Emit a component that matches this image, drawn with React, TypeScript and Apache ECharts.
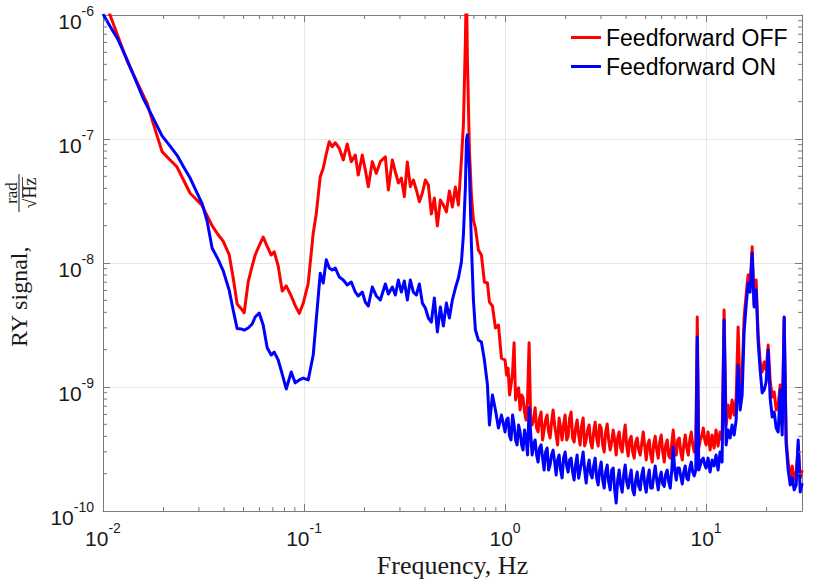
import React, { useEffect, useRef } from "react";
import * as echarts from "echarts";

// Frequency axis (Hz)
const freq: number[] = [
  0.01, 0.01084, 0.01188, 0.01317, 0.01443, 0.01582, 0.01656, 0.01774, 0.01967, 0.02157,
  0.02336, 0.02532, 0.02713, 0.02905, 0.03112, 0.03295, 0.03489, 0.03738, 0.03959, 0.04242,
  0.04441, 0.04649, 0.04868, 0.05038, 0.05275, 0.05521, 0.05715, 0.05983, 0.06263, 0.06557,
  0.06866, 0.07107, 0.0744, 0.07789, 0.08155, 0.08636, 0.09042, 0.09465, 0.09908,
  0.1049, 0.1111, 0.115, 0.1204, 0.1246, 0.129, 0.1335, 0.1381, 0.143, 0.1497,
  0.1568, 0.1641, 0.1718, 0.1799, 0.1862, 0.1949, 0.2018, 0.2088, 0.2186, 0.2289,
  0.2396, 0.2538, 0.2627, 0.275, 0.2846, 0.2946, 0.3049, 0.3155, 0.3265, 0.338,
  0.3498, 0.3621, 0.3747, 0.3878, 0.4014, 0.4154, 0.43, 0.445, 0.4606, 0.4767,
  0.4934, 0.5107, 0.5285, 0.547, 0.5662, 0.586, 0.6066, 0.6206, 0.635, 0.6424,
  0.6497, 0.6648, 0.6803, 0.696, 0.7122, 0.737, 0.7628, 0.7894, 0.8173, 0.8362,
  0.8655, 0.8958, 0.927, 0.9596,
  1.0, 1.017, 1.035, 1.053, 1.071, 1.09, 1.109, 1.128, 1.148, 1.168,
  1.188, 1.209, 1.229, 1.25, 1.272, 1.294, 1.317, 1.34, 1.363, 1.387,
  1.411, 1.435, 1.46, 1.485, 1.511, 1.537, 1.564, 1.591, 1.619, 1.647,
  1.675, 1.704, 1.734, 1.764, 1.795, 1.826, 1.857, 1.889, 1.922, 1.955,
  1.99, 2.025, 2.059, 2.095, 2.131, 2.168, 2.206, 2.244, 2.283, 2.323,
  2.363, 2.404, 2.446, 2.488, 2.532, 2.576, 2.62, 2.665, 2.712, 2.759,
  2.807, 2.856, 2.905, 2.955, 3.007, 3.059, 3.112, 3.166, 3.221, 3.277,
  3.334, 3.392, 3.45, 3.51, 3.571, 3.633, 3.696, 3.76, 3.825, 3.891,
  3.959, 4.028, 4.098, 4.169, 4.241, 4.315, 4.39, 4.466, 4.543, 4.622,
  4.702, 4.784, 4.867, 4.951, 5.037, 5.124, 5.214, 5.304, 5.396, 5.49,
  5.585, 5.682, 5.78, 5.88, 5.983, 6.087, 6.192, 6.299, 6.409, 6.52,
  6.633, 6.748, 6.865, 6.984, 7.105, 7.228, 7.354, 7.482, 7.612, 7.744,
  7.878, 8.015, 8.154, 8.295, 8.439, 8.585, 8.735, 8.887, 9.04, 9.197,
  9.357, 9.519, 9.684, 9.852,
  10.0, 10.23, 10.47, 10.71, 10.96, 11.21, 11.47, 11.74, 12.01, 12.29,
  12.58, 12.87, 13.17, 13.47, 13.79, 14.11, 14.43, 14.77, 15.11, 15.46,
  15.82, 16.19, 16.56, 16.95, 17.34, 17.74, 18.16, 18.58, 19.01, 19.45,
  19.9, 20.36, 20.83, 21.32, 21.81, 22.32, 22.84, 23.37, 23.91, 24.46,
  25.03, 25.61, 26.21, 26.82, 27.44, 28.07, 28.72, 29.39, 30.07,
];

// RY signal, Feedforward OFF (rad/sqrt(Hz))
const feedforwardOff: number[] = [
  1.42e-6, 1.0e-6, 6.72e-7, 4.27e-7, 3.12e-7, 2.27e-7, 1.95e-7, 1.35e-7, 7.91e-8, 6.78e-8,
  5.94e-8, 4.56e-8, 3.65e-8, 3.27e-8, 2.91e-8, 2.41e-8, 2.0e-8, 1.69e-8, 1.5e-8, 1.17e-8,
  7.62e-9, 4.67e-9, 4.28e-9, 3.97e-9, 7.03e-9, 9.46e-9, 1.16e-8, 1.38e-8, 1.62e-8, 1.36e-8,
  1.16e-8, 1.23e-8, 9.46e-9, 5.94e-9, 6.53e-9, 5.42e-9, 4.53e-9, 3.92e-9, 4.73e-9,
  6.86e-9, 1.74e-8, 2.48e-8, 4.97e-8, 5.81e-8, 7.57e-8, 9.51e-8, 8.67e-8, 9.33e-8, 8.41e-8,
  6.78e-8, 9.12e-8, 6.57e-8, 7.43e-8, 5.13e-8, 7.43e-8, 5.62e-8, 4.12e-8, 6.57e-8, 5.28e-8,
  6.57e-8, 7.19e-8, 3.88e-8, 6.78e-8, 5.42e-8, 4.42e-8, 4.84e-8, 3.43e-8, 6.53e-8, 4.12e-8,
  4.67e-8, 3.88e-8, 3.12e-8, 3.67e-8, 4.67e-8, 4.25e-8, 2.48e-8, 3.34e-8, 1.99e-8, 3.22e-8,
  2.94e-8, 2.58e-8, 3.81e-8, 2.83e-8, 4.1e-8, 2.94e-8, 6.78e-8, 1.3e-7, 6.28e-7, 1.91e-6,
  4.34e-7, 8.15e-8, 3.53e-8, 2.22e-8, 1.91e-8, 1.27e-8, 1.16e-8, 7.03e-9, 6.9e-9, 4.84e-9,
  4.5e-9, 2.99e-9, 3.16e-9, 1.71e-9,
  1.65e-9, 1.25e-9, 1.42e-9, 8.62e-10, 1.04e-9, 1.32e-9, 2.27e-9, 7.85e-10, 9.12e-10, 9.84e-10,
  6.53e-10, 8.62e-10, 8.15e-10, 6.29e-10, 5.42e-10, 7.85e-10, 2.27e-9, 5.94e-10, 4.94e-10, 5.42e-10,
  6.8e-10, 4.67e-10, 4.34e-10, 5.62e-10, 6.28e-10, 3.74e-10, 4.5e-10, 5.42e-10, 5.94e-10, 4.34e-10,
  3.88e-10, 5.22e-10, 6.53e-10, 4.94e-10, 4.1e-10, 3.41e-10, 5.62e-10, 4.67e-10, 3.74e-10, 4.94e-10,
  5.94e-10, 3.74e-10, 4.0e-10, 5.62e-10, 6.28e-10, 3.88e-10, 3.6e-10, 4.67e-10, 5.42e-10, 4.1e-10,
  3.41e-10, 4.85e-10, 5.62e-10, 3.35e-10, 3.74e-10, 4.5e-10, 4.94e-10, 3.6e-10, 3.22e-10, 4.34e-10,
  5.2e-10, 3.88e-10, 3.34e-10, 4.94e-10, 4.67e-10, 3.41e-10, 2.99e-10, 4.34e-10, 5.03e-10, 3.74e-10,
  3.1e-10, 3.6e-10, 4.5e-10, 3.74e-10, 2.83e-10, 3.88e-10, 4.34e-10, 3.23e-10, 2.99e-10, 4.02e-10,
  4.94e-10, 3.35e-10, 2.78e-10, 3.74e-10, 4.0e-10, 2.99e-10, 2.67e-10, 3.6e-10, 3.88e-10, 3.1e-10,
  2.83e-10, 3.47e-10, 4.34e-10, 3.35e-10, 2.58e-10, 3.41e-10, 3.74e-10, 2.83e-10, 2.48e-10, 3.47e-10,
  4.0e-10, 3.1e-10, 2.67e-10, 3.6e-10, 4.1e-10, 2.99e-10, 2.48e-10, 3.41e-10, 3.74e-10, 2.78e-10,
  2.67e-10, 3.47e-10, 4.5e-10, 3.23e-10, 2.83e-10, 3.74e-10, 3.88e-10, 2.99e-10, 2.58e-10, 3.41e-10,
  4.1e-10, 3.23e-10, 2.83e-10, 3.74e-10, 4.34e-10, 3.41e-10, 2.99e-10, 3.41e-10, 3.67e-9, 3.23e-10,
  3.74e-10, 4.02e-10, 4.67e-10, 3.74e-10,
  3.41e-10, 4.34e-10, 3.1e-10, 4.1e-10, 3.22e-10, 4.5e-10, 3.34e-10, 4.34e-10, 3.74e-10, 4.18e-9,
  4.94e-10, 7.16e-10, 5.62e-10, 7.85e-10, 5.94e-10, 8.15e-10, 3.05e-9, 8.62e-10, 1.25e-9, 3.67e-9,
  5.52e-9, 8.0e-9, 6.65e-9, 1.35e-8, 4.58e-9, 7.29e-9, 2.62e-9, 1.59e-9, 1.32e-9, 1.59e-9,
  1.37e-9, 2.18e-9, 1.14e-9, 8.3e-10, 9.12e-10, 6.53e-10, 7.16e-10, 1.04e-9, 4.94e-10, 3.6e-9,
  3.74e-10, 2.48e-10, 1.85e-10, 2.31e-10, 1.78e-10, 2.06e-10, 3.41e-10, 1.85e-10, 2.14e-10,
];

// RY signal, Feedforward ON (rad/sqrt(Hz))
const feedforwardOn: number[] = [
  1.02e-6, 8.11e-7, 6.34e-7, 4.37e-7, 3.06e-7, 2.14e-7, 1.85e-7, 1.48e-7, 1.06e-7, 8.77e-8,
  7.38e-8, 5.87e-8, 4.84e-8, 3.82e-8, 3.01e-8, 2.18e-8, 1.32e-8, 1.07e-8, 8.69e-9, 6.04e-9,
  4.18e-9, 2.96e-9, 2.94e-9, 2.88e-9, 2.99e-9, 3.22e-9, 3.67e-9, 3.95e-9, 3.16e-9, 2.07e-9,
  1.81e-9, 1.91e-9, 1.65e-9, 1.27e-9, 9.64e-10, 1.32e-9, 1.08e-9, 1.14e-9, 1.18e-9,
  1.14e-9, 1.81e-9, 3.47e-9, 8.26e-9, 6.9e-9, 1.06e-8, 9.12e-9, 8.79e-9, 9.12e-9, 7.71e-9,
  7.29e-9, 6.65e-9, 7.03e-9, 5.83e-9, 5.42e-9, 5.83e-9, 4.84e-9, 4.5e-9, 6.4e-9, 5.42e-9,
  5.03e-9, 6.78e-9, 5.62e-9, 6.4e-9, 5.52e-9, 7.29e-9, 5.83e-9, 7.16e-9, 5.03e-9, 7.29e-9,
  5.83e-9, 5.52e-9, 6.78e-9, 4.75e-9, 4.34e-9, 3.6e-9, 3.34e-9, 5.22e-9, 2.78e-9, 4.42e-9,
  3.1e-9, 4.75e-9, 3.6e-9, 5.03e-9, 6.28e-9, 7.57e-9, 1.02e-8, 1.68e-8, 4.1e-8, 9.82e-8,
  1.08e-7, 5.62e-8, 1.4e-8, 5.03e-9, 2.88e-9, 2.39e-9, 2.31e-9, 1.65e-9, 1.04e-9, 4.94e-10,
  8.62e-10, 6.53e-10, 4.67e-10, 5.94e-10,
  4.34e-10, 5.42e-10, 5.62e-10, 4.02e-10, 3.74e-10, 5.94e-10, 4.94e-10, 3.74e-10, 3.41e-10, 4.94e-10,
  4.34e-10, 3.41e-10, 3.1e-10, 4.5e-10, 3.88e-10, 2.83e-10, 6.8e-10, 4.34e-10, 2.83e-10, 3.41e-10,
  3.74e-10, 2.83e-10, 2.48e-10, 3.23e-10, 3.41e-10, 2.68e-10, 2.14e-10, 2.99e-10, 3.22e-10, 2.14e-10,
  2.35e-10, 2.83e-10, 3.1e-10, 2.49e-10, 1.95e-10, 2.58e-10, 2.83e-10, 2.14e-10, 1.85e-10, 2.68e-10,
  2.99e-10, 2.31e-10, 2.06e-10, 2.58e-10, 2.67e-10, 2.06e-10, 1.78e-10, 2.35e-10, 2.83e-10, 1.84e-10,
  2.14e-10, 2.49e-10, 2.99e-10, 2.14e-10, 1.68e-10, 2.22e-10, 2.58e-10, 1.99e-10, 1.85e-10, 2.31e-10,
  2.67e-10, 1.84e-10, 1.62e-10, 2.14e-10, 2.48e-10, 1.78e-10, 1.53e-10, 2.06e-10, 2.35e-10, 1.72e-10,
  1.48e-10, 2.14e-10, 2.22e-10, 1.48e-10, 1.16e-10, 1.78e-10, 2.14e-10, 1.62e-10, 1.42e-10, 1.95e-10,
  2.35e-10, 1.72e-10, 1.53e-10, 1.84e-10, 2.14e-10, 1.48e-10, 1.35e-10, 1.78e-10, 2.06e-10, 1.59e-10,
  1.48e-10, 1.95e-10, 2.22e-10, 1.65e-10, 1.42e-10, 1.84e-10, 2.14e-10, 1.53e-10, 1.53e-10, 1.91e-10,
  2.31e-10, 1.78e-10, 1.48e-10, 1.84e-10, 2.06e-10, 1.65e-10, 1.58e-10, 1.99e-10, 2.14e-10, 1.72e-10,
  1.53e-10, 2.14e-10, 3.28e-10, 2.14e-10, 1.78e-10, 2.22e-10, 2.22e-10, 1.91e-10, 1.65e-10, 2.06e-10,
  2.31e-10, 1.84e-10, 1.78e-10, 2.22e-10, 2.48e-10, 2.06e-10, 1.92e-10, 2.14e-10, 2.53e-9, 2.14e-10,
  2.35e-10, 2.58e-10, 2.67e-10, 2.35e-10,
  2.22e-10, 2.67e-10, 2.06e-10, 2.58e-10, 2.31e-10, 2.83e-10, 2.14e-10, 2.99e-10, 2.48e-10, 3.47e-9,
  3.41e-10, 4.5e-10, 3.88e-10, 4.94e-10, 4.1e-10, 5.42e-10, 1.5e-9, 6.53e-10, 8.62e-10, 2.78e-9,
  4.58e-9, 6.9e-9, 5.83e-9, 1.2e-8, 4.42e-9, 6.05e-9, 2.31e-9, 1.37e-9, 8.95e-10, 9.46e-10,
  1.1e-9, 1.99e-9, 8.15e-10, 5.73e-10, 6.28e-10, 4.67e-10, 4.34e-10, 9.46e-10, 4.1e-10, 3.67e-9,
  3.41e-10, 2.14e-10, 1.62e-10, 1.85e-10, 1.48e-10, 1.62e-10, 3.74e-10, 1.42e-10, 1.68e-10,
];

const seriesNames = ["Feedforward OFF", "Feedforward ON"];
const xRange = [0.01, 30];
const yRange = [1e-10, 1e-6];
const xDecadeExponents = [-2, -1, 0, 1];
const yDecadeExponents = [-10, -9, -8, -7];
const minorMantissas = [2, 3, 4, 5, 6, 7, 8, 9];

const AXIS_COLOR = "#7a7a7a";
const TEXT_COLOR = "#1a1a1a";
const SANS = "'Liberation Sans', Arial, Helvetica, sans-serif";
const SERIF = "'Liberation Serif', 'Times New Roman', serif";

function powLabel(v: number): string {
  const lg = Math.log10(v);
  const e = Math.round(lg);
  if (Math.abs(lg - e) > 1e-6) return "";
  return `{b|10}{e|${e}}`;
}

const richLabels = {
  b: { fontSize: 21, fontFamily: SANS, color: TEXT_COLOR, lineHeight: 34 },
  e: { fontSize: 14, fontFamily: SANS, color: TEXT_COLOR, lineHeight: 14, verticalAlign: "top" },
};

export default function App() {
  const ref = useRef<HTMLDivElement>(null);

  useEffect(() => {
    if (!ref.current) return;
    const chart = echarts.init(ref.current, null, { renderer: "svg" });

    const offData = freq.map((f, i) => [f, feedforwardOff[i]]);
    const onData = freq.map((f, i) => [f, feedforwardOn[i]]);

    const xMinor: number[][] = [];
    xDecadeExponents.forEach((e) =>
      minorMantissas.forEach((m) => {
        const v = m * Math.pow(10, e);
        if (v < xRange[1]) xMinor.push([v, 1e-8]);
      })
    );
    const yMinor: number[][] = [];
    yDecadeExponents.forEach((e) =>
      minorMantissas.forEach((m) => {
        yMinor.push([0.1, m * Math.pow(10, e)]);
      })
    );

    const tickStyle = { stroke: AXIS_COLOR, lineWidth: 1 };
    const MINOR = 4;

    const commonAxisLine = { show: true, onZero: false, lineStyle: { color: AXIS_COLOR, width: 1 } };
    const commonTick = { show: true, inside: true, length: 7, lineStyle: { color: AXIS_COLOR, width: 1 } };

    const option: any = {
      animation: false,
      backgroundColor: "#ffffff",
      grid: { left: 103, top: 15, width: 699, height: 496, containLabel: false },
      legend: {
        data: seriesNames,
        orient: "vertical",
        left: 571,
        top: 26,
        padding: 0,
        itemGap: 6,
        itemWidth: 30,
        itemHeight: 3,
        icon: "rect",
        textStyle: { fontFamily: SANS, fontSize: 23, color: "#000", lineHeight: 23 },
      },
      xAxis: [
        {
          type: "log",
          logBase: 10,
          min: xRange[0],
          max: xRange[1],
          position: "bottom",
          axisLine: commonAxisLine,
          axisTick: commonTick,
          axisLabel: {
            formatter: powLabel,
            rich: richLabels,
            margin: 10,
            interval: 0,
            hideOverlap: false,
            showMinLabel: true,
            showMaxLabel: true,
          },
          splitLine: { show: true, lineStyle: { color: "#e6e6e6", width: 1 } },
        },
        {
          type: "log",
          logBase: 10,
          min: xRange[0],
          max: xRange[1],
          position: "top",
          axisLine: commonAxisLine,
          axisTick: commonTick,
          axisLabel: { show: false },
          splitLine: { show: false },
        },
      ],
      yAxis: [
        {
          type: "log",
          logBase: 10,
          min: yRange[0],
          max: yRange[1],
          position: "left",
          axisLine: commonAxisLine,
          axisTick: commonTick,
          axisLabel: {
            formatter: powLabel,
            rich: richLabels,
            margin: 9,
            padding: [12, 0, 0, 0],
            interval: 0,
            hideOverlap: false,
            showMinLabel: true,
            showMaxLabel: true,
          },
          splitLine: { show: true, lineStyle: { color: "#e6e6e6", width: 1 } },
        },
        {
          type: "log",
          logBase: 10,
          min: yRange[0],
          max: yRange[1],
          position: "right",
          axisLine: commonAxisLine,
          axisTick: commonTick,
          axisLabel: { show: false },
          splitLine: { show: false },
        },
      ],
      series: [
        {
          name: seriesNames[0],
          type: "line",
          data: offData,
          showSymbol: false,
          symbol: "none",
          clip: true,
          color: "#ff0000",
          lineStyle: { color: "#ff0000", width: 3, join: "round" },
          z: 3,
        },
        {
          name: seriesNames[1],
          type: "line",
          data: onData,
          showSymbol: false,
          symbol: "none",
          clip: true,
          color: "#0000ff",
          lineStyle: { color: "#0000ff", width: 3, join: "round" },
          z: 4,
        },
        {
          type: "custom",
          silent: true,
          z: 5,
          data: xMinor,
          renderItem: (params: any, api: any) => {
            const cs = params.coordSys;
            const x = api.coord([api.value(0), 1e-8])[0];
            const bottom = cs.y + cs.height;
            return {
              type: "group",
              children: [
                { type: "line", shape: { x1: x, y1: bottom, x2: x, y2: bottom - MINOR }, style: tickStyle },
                { type: "line", shape: { x1: x, y1: cs.y, x2: x, y2: cs.y + MINOR }, style: tickStyle },
              ],
            };
          },
        },
        {
          type: "custom",
          silent: true,
          z: 5,
          data: yMinor,
          renderItem: (params: any, api: any) => {
            const cs = params.coordSys;
            const y = api.coord([0.1, api.value(1)])[1];
            const right = cs.x + cs.width;
            return {
              type: "group",
              children: [
                { type: "line", shape: { x1: cs.x, y1: y, x2: cs.x + MINOR, y2: y }, style: tickStyle },
                { type: "line", shape: { x1: right, y1: y, x2: right - MINOR, y2: y }, style: tickStyle },
              ],
            };
          },
        },
      ],
      graphic: [
        {
          type: "text",
          x: 452.5,
          y: 565,
          style: {
            text: "Frequency, Hz",
            fontSize: 26,
            fontFamily: SERIF,
            fill: TEXT_COLOR,
            align: "center",
            verticalAlign: "middle",
          },
        },
        {
          type: "group",
          x: 19,
          y: 263,
          rotation: Math.PI / 2,
          children: [
            {
              type: "text",
              x: -84,
              y: 0,
              style: {
                text: "RY signal,",
                fontSize: 24,
                fontFamily: SERIF,
                fill: TEXT_COLOR,
                align: "left",
                verticalAlign: "middle",
              },
            },
            {
              type: "text",
              x: 70,
              y: -1,
              style: {
                text: "rad",
                fontSize: 17,
                lineHeight: 13,
                fontFamily: SERIF,
                fill: TEXT_COLOR,
                align: "center",
                verticalAlign: "bottom",
              },
            },
            {
              type: "line",
              shape: { x1: 51, y1: 0, x2: 89, y2: 0 },
              style: { stroke: TEXT_COLOR, lineWidth: 1 },
            },
            {
              type: "text",
              x: 70,
              y: 2,
              style: {
                text: "\u221AHz",
                fontSize: 18,
                fontFamily: SERIF,
                fill: TEXT_COLOR,
                align: "center",
                verticalAlign: "top",
              },
            },
            {
              type: "line",
              shape: { x1: 65, y1: 3.5, x2: 86, y2: 3.5 },
              style: { stroke: TEXT_COLOR, lineWidth: 0.8 },
            },
          ],
        },
      ],
    };

    chart.setOption(option);
    return () => chart.dispose();
  }, []);

  return (
    <div
      ref={ref}
      style={{ position: "absolute", left: 0, top: 0, width: 830, height: 587 }}
    />
  );
}
